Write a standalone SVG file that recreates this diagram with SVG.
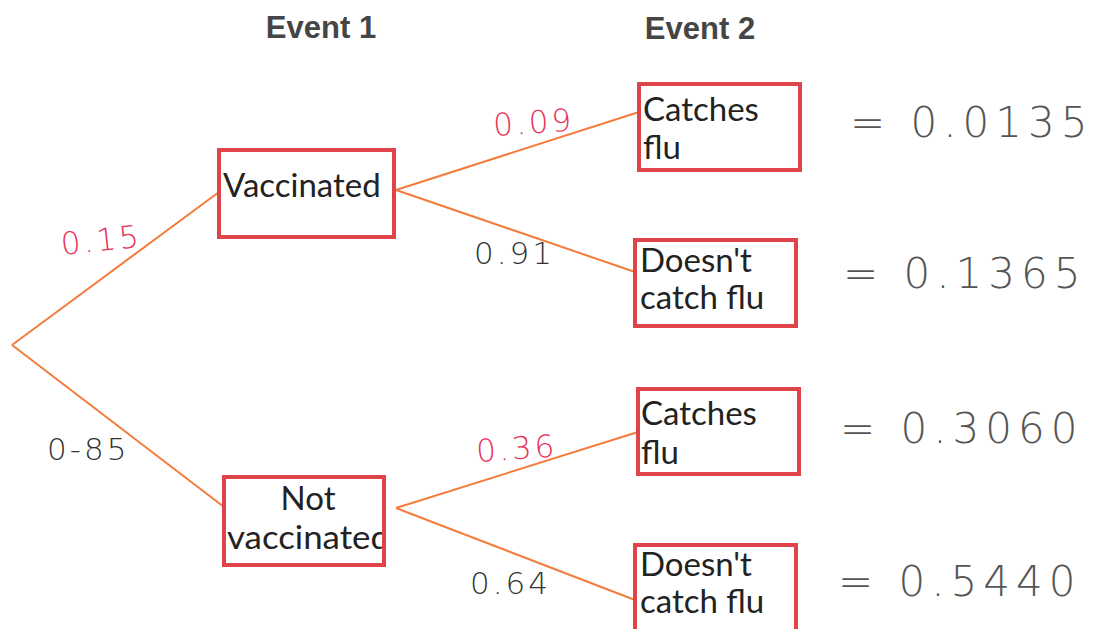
<svg xmlns="http://www.w3.org/2000/svg" width="1100" height="629" viewBox="0 0 1100 629">
<style>
.title{font-family:"Liberation Sans",Arial,sans-serif;font-weight:bold;font-size:31px;fill:#454545}
.box{fill:#fff;stroke:#e0444b;stroke-width:4}
.lbl{font-family:Lato,"Open Sans",sans-serif;font-size:33px;fill:#222}
.edge{stroke:#f47b3c;stroke-width:2;fill:none}
.hand{font-family:"DejaVu Sans",sans-serif;font-weight:200;font-size:31px;fill:#333;letter-spacing:3px}
.pink{fill:#e8335a}
.res{font-family:"DejaVu Sans",sans-serif;font-weight:200;font-size:42px;fill:#555;letter-spacing:6px}
</style>
<defs>
<clipPath id="clipNV"><rect x="226" y="479" width="156" height="84"/></clipPath>
</defs>
<rect width="1100" height="629" fill="#fff"/>
<text class="title" x="321" y="38" text-anchor="middle">Event 1</text>
<text class="title" x="700" y="39" text-anchor="middle">Event 2</text>
<g id="connectors">
<line class="edge" x1="12" y1="345" x2="219" y2="192"/>
<line class="edge" x1="12" y1="345" x2="224" y2="507"/>
<line class="edge" x1="396" y1="190" x2="639" y2="112"/>
<line class="edge" x1="396" y1="190" x2="635" y2="272"/>
<line class="edge" x1="396" y1="508" x2="638" y2="432"/>
<line class="edge" x1="396" y1="508" x2="635" y2="600"/>
</g>
<g id="vaccinated">
<rect class="box" x="219" y="150" width="175" height="87"/>
<text class="lbl" x="223" y="197">Vaccinated</text>
</g>
<g id="not-vaccinated">
<rect class="box" x="224" y="477" width="160" height="88"/>
<g clip-path="url(#clipNV)">
<text class="lbl" x="308" y="510" text-anchor="middle">Not</text>
<text class="lbl" x="227" y="549" textLength="163" lengthAdjust="spacingAndGlyphs">vaccinated</text>
</g>
</g>
<g id="v-catches">
<rect class="box" x="639" y="84" width="161" height="86"/>
<text class="lbl" x="643" y="121">Catches</text>
<text class="lbl" x="643" y="159">flu</text>
</g>
<g id="v-doesnt">
<rect class="box" x="635" y="240" width="161" height="86"/>
<text class="lbl" x="640" y="272">Doesn't</text>
<text class="lbl" x="640" y="309">catch flu</text>
</g>
<g id="nv-catches">
<rect class="box" x="638" y="389" width="161" height="85"/>
<text class="lbl" x="641" y="425">Catches</text>
<text class="lbl" x="641" y="464">flu</text>
</g>
<g id="nv-doesnt">
<rect class="box" x="635" y="545" width="161" height="90"/>
<text class="lbl" x="640" y="576">Doesn't</text>
<text class="lbl" x="640" y="613">catch flu</text>
</g>
<g id="branch-labels">
<text class="hand pink" x="62" y="255" transform="rotate(-6 62 255)">0.15</text>
<text class="hand" x="47" y="460">0-85</text>
<text class="hand pink" x="494" y="136" transform="rotate(-4 494 136)">0.09</text>
<text class="hand" x="474" y="264">0.91</text>
<text class="hand pink" x="477" y="462" transform="rotate(-4 477 462)">0.36</text>
<text class="hand" x="470" y="594">0.64</text>
</g>
<g id="results">
<text class="res" x="850" y="137">= 0.0135</text>
<text class="res" x="843" y="288">= 0.1365</text>
<text class="res" x="840" y="443">= 0.3060</text>
<text class="res" x="838" y="596">= 0.5440</text>
</g>
</svg>
